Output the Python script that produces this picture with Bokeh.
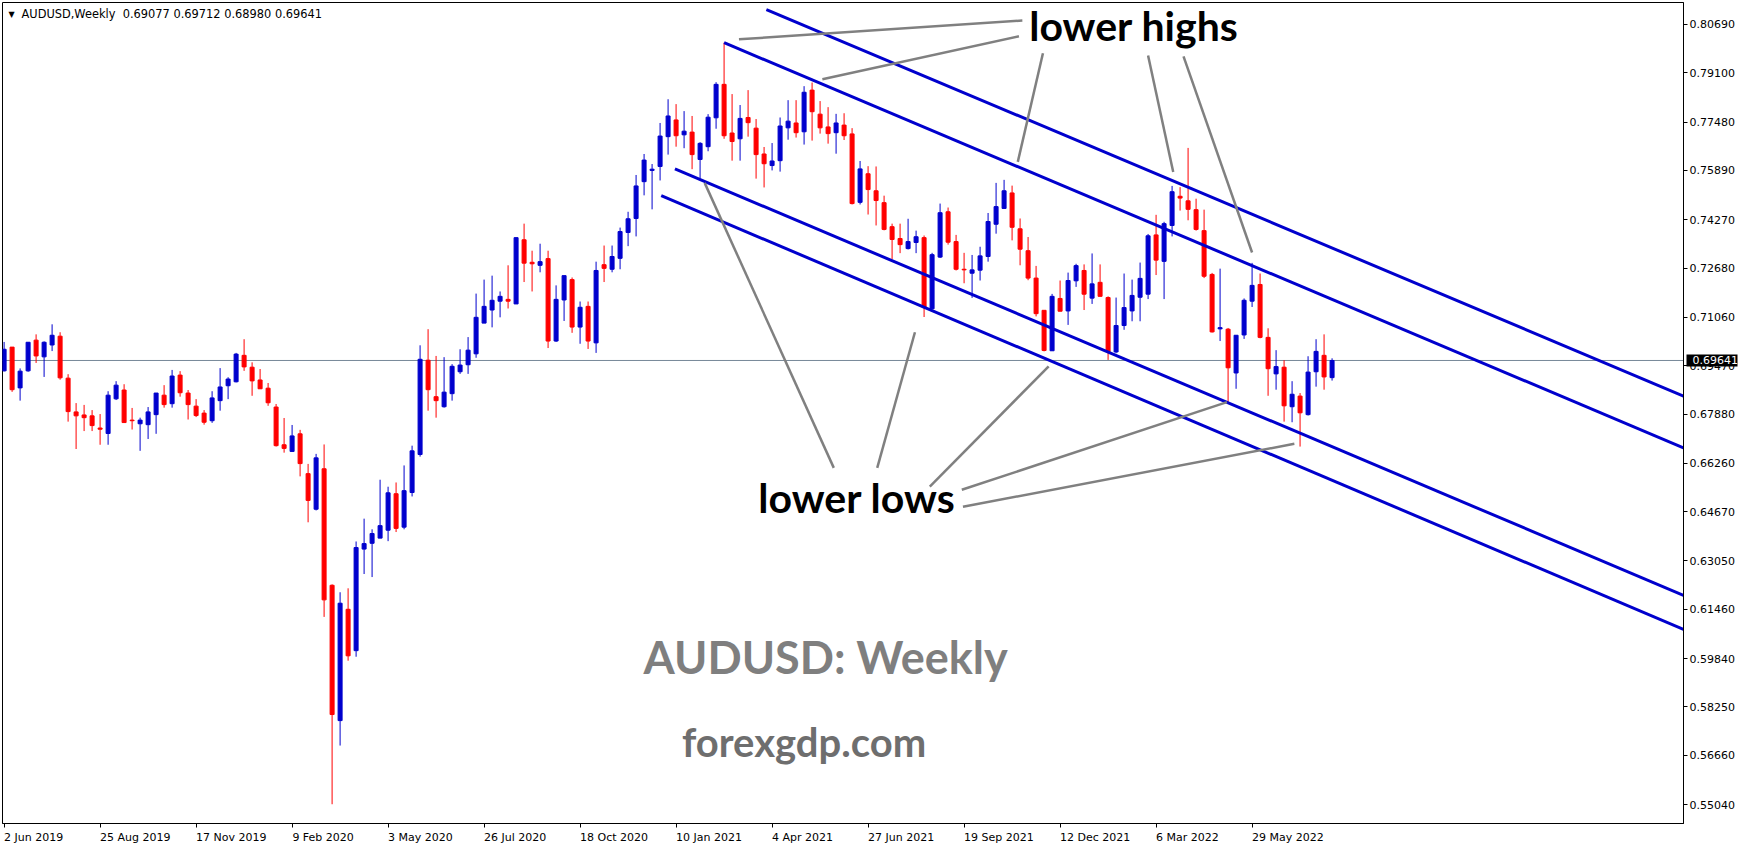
import pandas as pd

from bokeh.plotting import figure
from bokeh.models import (ColumnDataSource, FixedTicker, PrintfTickFormatter, Range1d, Span,
                          Label, LinearAxis)
from bokeh.core.properties import value
from bokeh.embed import file_html
from bokeh.resources import INLINE

symbol = "AUDUSD"
timeframe = "Weekly"
first_week = "2019-06-02"
view_end = "2023-06-10 12:00"

# weekly candles (one row = 10 weeks)
opens = [
    0.6930, 0.7008, 0.6874, 0.6930, 0.7031, 0.6976, 0.7015, 0.7044, 0.6906, 0.6795,
    0.6785, 0.6782, 0.6742, 0.6724, 0.6838, 0.6867, 0.6768, 0.6756, 0.6753, 0.6786,
    0.6850, 0.6822, 0.6916, 0.6857, 0.6814, 0.6791, 0.6766, 0.6832, 0.6881, 0.6894,
    0.6981, 0.6942, 0.6900, 0.6873, 0.6811, 0.6687, 0.6665, 0.6723, 0.6592, 0.6475,
    0.6608, 0.6225, 0.5780, 0.6146, 0.6010, 0.6344, 0.6363, 0.6380, 0.6406, 0.6526,
    0.6416, 0.6530, 0.6655, 0.6965, 0.6845, 0.6812, 0.6855, 0.6927, 0.6950, 0.6986,
    0.7087, 0.7130, 0.7159, 0.7165, 0.7150, 0.7361, 0.7287, 0.7277, 0.7299, 0.7028,
    0.7163, 0.7230, 0.7074, 0.7142, 0.7022, 0.7279, 0.7264, 0.7300, 0.7385, 0.7431,
    0.7552, 0.7589, 0.7602, 0.7700, 0.7755, 0.7706, 0.7715, 0.7625, 0.7667, 0.7762,
    0.7872, 0.7712, 0.7693, 0.7763, 0.7728, 0.7643, 0.7605, 0.7621, 0.7729, 0.7745,
    0.7716, 0.7853, 0.7774, 0.7732, 0.7713, 0.7738, 0.7709, 0.7484, 0.7578, 0.7522,
    0.7483, 0.7404, 0.7365, 0.7332, 0.7352, 0.7368, 0.7134, 0.7304, 0.7453, 0.7355,
    0.7264, 0.7251, 0.7261, 0.7306, 0.7412, 0.7464, 0.7515, 0.7397, 0.7325, 0.7235,
    0.7129, 0.6996, 0.7168, 0.7127, 0.7226, 0.7260, 0.7169, 0.7221, 0.7171, 0.6992,
    0.7079, 0.7127, 0.7172, 0.7182, 0.7377, 0.7290, 0.7408, 0.7504, 0.7489, 0.7460,
    0.7391, 0.7247, 0.7068, 0.7067, 0.6923, 0.7048, 0.7159, 0.7214, 0.7040, 0.6920,
    0.6942, 0.6812, 0.6847, 0.6786, 0.6927, 0.6981, 0.69077,
]
highs = [
    0.7025, 0.7008, 0.6938, 0.7024, 0.7050, 0.7027, 0.7083, 0.7057, 0.6919, 0.6824,
    0.6818, 0.6801, 0.6788, 0.6863, 0.6896, 0.6886, 0.6808, 0.6776, 0.6811, 0.6857,
    0.6883, 0.6933, 0.6929, 0.6867, 0.6837, 0.6801, 0.6863, 0.6939, 0.6909, 0.6989,
    0.7034, 0.6958, 0.6936, 0.6890, 0.6821, 0.6775, 0.6752, 0.6736, 0.6624, 0.6657,
    0.6688, 0.6228, 0.6202, 0.6215, 0.6369, 0.6444, 0.6409, 0.6572, 0.6549, 0.6563,
    0.6619, 0.6684, 0.7014, 0.7067, 0.6979, 0.6975, 0.6952, 0.7001, 0.7041, 0.7184,
    0.7230, 0.7243, 0.7191, 0.7277, 0.7368, 0.7414, 0.7325, 0.7348, 0.7325, 0.7211,
    0.7243, 0.7237, 0.7158, 0.7158, 0.7289, 0.7342, 0.7342, 0.7401, 0.7453, 0.7574,
    0.7643, 0.7610, 0.7745, 0.7823, 0.7807, 0.7784, 0.7768, 0.7682, 0.7774, 0.7879,
    0.8009, 0.7840, 0.7804, 0.7853, 0.7758, 0.7666, 0.7679, 0.7763, 0.7820, 0.7820,
    0.7866, 0.7878, 0.7817, 0.7797, 0.7775, 0.7777, 0.7728, 0.7620, 0.7603, 0.7602,
    0.7506, 0.7414, 0.7414, 0.7430, 0.7391, 0.7375, 0.7318, 0.7480, 0.7467, 0.7377,
    0.7318, 0.7311, 0.7338, 0.7449, 0.7548, 0.7558, 0.7539, 0.7431, 0.7370, 0.7275,
    0.7129, 0.7183, 0.7227, 0.7253, 0.7282, 0.7280, 0.7316, 0.7280, 0.7175, 0.7171,
    0.7250, 0.7230, 0.7286, 0.7380, 0.7443, 0.7420, 0.7538, 0.7534, 0.7663, 0.7496,
    0.7460, 0.7252, 0.7266, 0.7071, 0.7047, 0.7168, 0.7285, 0.7250, 0.7070, 0.6998,
    0.6965, 0.6896, 0.6857, 0.6978, 0.7034, 0.7050, 0.69712,
]
lows = [
    0.6928, 0.6861, 0.6832, 0.6927, 0.6956, 0.6910, 0.6995, 0.6901, 0.6763, 0.6673,
    0.6732, 0.6732, 0.6687, 0.6687, 0.6834, 0.6760, 0.6737, 0.6667, 0.6706, 0.6723,
    0.6809, 0.6809, 0.6845, 0.6770, 0.6778, 0.6753, 0.6759, 0.6799, 0.6837, 0.6892,
    0.6930, 0.6848, 0.6871, 0.6815, 0.6681, 0.6661, 0.6665, 0.6583, 0.6432, 0.6471,
    0.6121, 0.5505, 0.5698, 0.5977, 0.5990, 0.6262, 0.6252, 0.6380, 0.6370, 0.6400,
    0.6409, 0.6517, 0.6648, 0.6799, 0.6776, 0.6809, 0.6832, 0.6920, 0.6920, 0.6973,
    0.7087, 0.7073, 0.7106, 0.7135, 0.7150, 0.7222, 0.7191, 0.7254, 0.7005, 0.7025,
    0.7094, 0.7055, 0.7019, 0.7002, 0.6989, 0.7222, 0.7254, 0.7264, 0.7340, 0.7372,
    0.7507, 0.7461, 0.7556, 0.7641, 0.7667, 0.7662, 0.7593, 0.7563, 0.7652, 0.7726,
    0.7693, 0.7621, 0.7621, 0.7700, 0.7562, 0.7533, 0.7589, 0.7585, 0.7690, 0.7697,
    0.7674, 0.7687, 0.7710, 0.7677, 0.7644, 0.7689, 0.7477, 0.7477, 0.7444, 0.7408,
    0.7392, 0.7297, 0.7317, 0.7329, 0.7317, 0.7107, 0.7132, 0.7301, 0.7345, 0.7260,
    0.7218, 0.7170, 0.7227, 0.7289, 0.7381, 0.7464, 0.7359, 0.7277, 0.7228, 0.7109,
    0.6994, 0.6996, 0.7126, 0.7081, 0.7206, 0.7130, 0.7150, 0.7175, 0.6966, 0.6988,
    0.7065, 0.7093, 0.7093, 0.7166, 0.7245, 0.7166, 0.7372, 0.7457, 0.7425, 0.7391,
    0.7235, 0.7056, 0.7028, 0.6824, 0.6871, 0.7035, 0.7140, 0.7037, 0.6848, 0.6868,
    0.6763, 0.6761, 0.6681, 0.6783, 0.6878, 0.6868, 0.68980,
]
closes = [
    0.7001, 0.6868, 0.6929, 0.7024, 0.6979, 0.7024, 0.7047, 0.6907, 0.6796, 0.6782,
    0.6776, 0.6750, 0.6738, 0.6850, 0.6883, 0.6760, 0.6766, 0.6768, 0.6795, 0.6857,
    0.6819, 0.6913, 0.6858, 0.6819, 0.6783, 0.6761, 0.6841, 0.6877, 0.6903, 0.6985,
    0.6943, 0.6897, 0.6871, 0.6825, 0.6684, 0.6675, 0.6716, 0.6625, 0.6504, 0.6644,
    0.6177, 0.5800, 0.6166, 0.5993, 0.6349, 0.6362, 0.6395, 0.6421, 0.6529, 0.6412,
    0.6536, 0.6667, 0.6968, 0.6868, 0.6832, 0.6860, 0.6945, 0.6949, 0.6998, 0.7106,
    0.7142, 0.7162, 0.7175, 0.7159, 0.7368, 0.7284, 0.7282, 0.7289, 0.7028, 0.7165,
    0.7243, 0.7074, 0.7139, 0.7028, 0.7260, 0.7267, 0.7306, 0.7388, 0.7430, 0.7538,
    0.7623, 0.7593, 0.7702, 0.7768, 0.7703, 0.7718, 0.7641, 0.7678, 0.7764, 0.7872,
    0.7703, 0.7684, 0.7760, 0.7746, 0.7641, 0.7611, 0.7620, 0.7735, 0.7751, 0.7713,
    0.7846, 0.7782, 0.7729, 0.7710, 0.7745, 0.7703, 0.7480, 0.7594, 0.7526, 0.7490,
    0.7395, 0.7362, 0.7345, 0.7355, 0.7371, 0.7138, 0.7312, 0.7450, 0.7353, 0.7264,
    0.7262, 0.7262, 0.7308, 0.7421, 0.7470, 0.7522, 0.7402, 0.7330, 0.7235, 0.7118,
    0.6997, 0.7175, 0.7126, 0.7227, 0.7276, 0.7182, 0.7216, 0.7175, 0.6993, 0.7079,
    0.7138, 0.7178, 0.7234, 0.7374, 0.7294, 0.7414, 0.7519, 0.7498, 0.7461, 0.7395,
    0.7241, 0.7058, 0.7072, 0.6940, 0.7047, 0.7162, 0.7211, 0.7040, 0.6937, 0.6944,
    0.6815, 0.6853, 0.6792, 0.6926, 0.6994, 0.6910, 0.69641,
]

x_tick_dates = ["2019-06-02", "2019-08-25", "2019-11-17", "2020-02-09", "2020-05-03",
                "2020-07-26", "2020-10-18", "2021-01-10", "2021-04-04", "2021-06-27",
                "2021-09-19", "2021-12-12", "2022-03-06", "2022-05-29"]
y_ticks = [0.80690, 0.79100, 0.77480, 0.75890, 0.74270, 0.72680, 0.71060, 0.69470,
           0.67880, 0.66260, 0.64670, 0.63050, 0.61460, 0.59840, 0.58250, 0.56660, 0.55040]
price_low, price_high = 0.54417, 0.81411

# descending channel, drawn to the right edge
channel_start_dates = ["2021-03-30", "2021-02-21", "2021-01-09", "2020-12-28"]
channel_start_prices = [0.8118, 0.8009, 0.7594, 0.7506]
channel_end_prices = [0.6847, 0.6677, 0.6192, 0.6080]

# pointer lines: from the caption to the swing
highs_text_dates = ["2021-11-09", "2021-11-06", "2021-11-27", "2022-02-27", "2022-03-30"]
highs_text_prices = [0.8082, 0.8030, 0.7974, 0.7967, 0.7964]
highs_tip_dates = ["2021-03-06", "2021-05-18", "2021-11-05", "2022-03-21", "2022-05-29"]
highs_tip_prices = [0.8020, 0.7889, 0.7617, 0.7584, 0.7319]

lows_text_dates = ["2021-05-28", "2021-07-05", "2021-08-20", "2021-09-17", "2021-09-18"]
lows_text_prices = [0.6611, 0.6611, 0.6549, 0.6539, 0.6483]
lows_tip_dates = ["2021-02-04", "2021-08-07", "2021-12-02", "2022-05-07", "2022-07-05"]
lows_tip_prices = [0.7548, 0.7057, 0.6945, 0.6827, 0.6690]

captions = ["lower highs", "lower lows"]
caption_dates = ["2021-11-15", "2021-03-23"]
caption_prices = [0.8066, 0.6513]

watermark = ["AUDUSD: Weekly", "forexgdp.com"]
watermark_dates = ["2021-05-21", "2021-05-02"]
watermark_prices = [0.5990, 0.5710]

BLUE = "#0000cd"
RED = "#ff0000"
DAY = 86400000.0
W, H = 1740, 846
BORDER_L, BORDER_R, BORDER_T, BORDER_B = 2, 57, 2, 20
AXIS_FONT = "DejaVu Sans"
AXIS_PX = 11

# DejaVu Sans advance widths (em) for the date labels
DEJAVU_EM = {" ": 0.318, "A": 0.684, "D": 0.770, "F": 0.575, "J": 0.295, "M": 0.863,
             "N": 0.748, "O": 0.787, "S": 0.635, "a": 0.613, "b": 0.635, "c": 0.550,
             "e": 0.615, "g": 0.635, "l": 0.278, "n": 0.634, "o": 0.612, "p": 0.635,
             "r": 0.411, "t": 0.392, "u": 0.634, "v": 0.592, "y": 0.592}


def ms(d):
    return pd.Timestamp(d).value / 1e6


def text_px(s):
    return sum(0.636 if ch.isdigit() else DEJAVU_EM.get(ch, 0.6) for ch in s) * AXIS_PX


n = len(opens)
assert len(highs) == n and len(lows) == n and len(closes) == n
weeks = pd.date_range(first_week, periods=n, freq="7D")

src = ColumnDataSource(dict(
    x=[ms(d) for d in weeks],
    high=highs, low=lows,
    top=[max(o, c) for o, c in zip(opens, closes)],
    bottom=[min(o, c) for o, c in zip(opens, closes)],
    color=[BLUE if c >= o else RED for o, c in zip(opens, closes)],
))

x_start = ms(first_week) - 1.4 * DAY
x_end = ms(view_end)

p = figure(width=W, height=H, x_axis_type="datetime", y_axis_location="right",
           x_range=Range1d(x_start, x_end), y_range=Range1d(price_low, price_high),
           toolbar_location=None, output_backend="svg",
           min_border_left=BORDER_L, min_border_right=BORDER_R,
           min_border_top=BORDER_T, min_border_bottom=BORDER_B)
p.background_fill_color = "white"
p.border_fill_color = "white"
p.outline_line_color = "black"
p.grid.visible = False

# terminal-style dates start at their tick: put the label centre half a label to the right
ms_per_px = (x_end - x_start) / (W - BORDER_L - BORDER_R)
tick_ms = [ms(d) for d in x_tick_dates]
tick_text = [f"{pd.Timestamp(d).day} {pd.Timestamp(d):%b %Y}" for d in x_tick_dates]
label_centres = [int(round(t + text_px(s) / 2 * ms_per_px)) for t, s in zip(tick_ms, tick_text)]

xaxis = p.xaxis[0]
xaxis.ticker = FixedTicker(ticks=label_centres, minor_ticks=tick_ms)
xaxis.major_label_overrides = dict(zip(label_centres, tick_text))
xaxis.major_tick_in = 0
xaxis.major_tick_out = 0
xaxis.minor_tick_in = 0
xaxis.minor_tick_out = 4
xaxis.minor_tick_line_color = "black"
xaxis.major_label_standoff = 3
xaxis.major_label_text_font = AXIS_FONT
xaxis.major_label_text_font_size = f"{AXIS_PX}px"
xaxis.major_label_text_color = "black"
xaxis.axis_line_color = "black"

yaxis = p.yaxis[0]
yaxis.ticker = FixedTicker(ticks=y_ticks)
yaxis.formatter = PrintfTickFormatter(format="%.5f")
yaxis.major_tick_in = 0
yaxis.major_tick_out = 4
yaxis.minor_tick_in = 0
yaxis.minor_tick_out = 0
yaxis.major_label_standoff = 2
yaxis.major_label_text_font = AXIS_FONT
yaxis.major_label_text_font_size = f"{AXIS_PX}px"
yaxis.major_label_text_color = "black"
yaxis.axis_line_color = "black"

# last price marker: a second scale just outside the first, whose single tick points back
# inwards as a thick black bar, with its white label written on top of it
price_axis = LinearAxis(ticker=FixedTicker(ticks=[closes[-1]]),
                        formatter=PrintfTickFormatter(format="%.5f"),
                        axis_line_color=None, major_tick_in=51, major_tick_out=0,
                        major_tick_line_width=12, major_tick_line_color="black",
                        minor_tick_in=0, minor_tick_out=0, major_label_standoff=-45,
                        major_label_text_color="white", major_label_text_font=AXIS_FONT,
                        major_label_text_font_size=f"{AXIS_PX}px")
p.add_layout(price_axis, "right")

p.add_layout(Span(location=closes[-1], dimension="width", line_color="#778899",
                  line_width=1, level="underlay"))

p.segment(x0="x", y0="low", x1="x", y1="high", line_color="color", line_width=1, source=src)
p.vbar(x="x", width=3.5 * DAY, top="top", bottom="bottom", fill_color="color",
       line_color="color", line_width=1, source=src)

p.segment(x0=[ms(d) for d in channel_start_dates], y0=channel_start_prices,
          x1=[x_end] * len(channel_start_dates), y1=channel_end_prices,
          line_color=BLUE, line_width=3)

p.segment(x0=[ms(d) for d in highs_text_dates], y0=highs_text_prices,
          x1=[ms(d) for d in highs_tip_dates], y1=highs_tip_prices,
          line_color="#808080", line_width=2.5)
p.segment(x0=[ms(d) for d in lows_text_dates], y0=lows_text_prices,
          x1=[ms(d) for d in lows_tip_dates], y1=lows_tip_prices,
          line_color="#808080", line_width=2.5)

p.text(x=[ms(d) for d in caption_dates], y=caption_prices, text=captions,
       text_font=value("Lato"), text_font_style="bold", text_font_size="41px",
       text_color="black", text_align="left", text_baseline="alphabetic")

p.text(x=[ms(watermark_dates[0])], y=[watermark_prices[0]], text=[watermark[0]],
       text_font=value("Lato"), text_font_style="bold", text_font_size="45px",
       text_color="#7f7f7f", text_align="center", text_baseline="alphabetic")
p.text(x=[ms(watermark_dates[1])], y=[watermark_prices[1]], text=[watermark[1]],
       text_font=value("Lato"), text_font_style="bold", text_font_size="40px",
       text_color="#6e6e6e", text_align="center", text_baseline="alphabetic")

# header line
header = f"{symbol},{timeframe}\u00a0 " + " ".join(
    f"{v:.5f}" for v in (opens[-1], highs[-1], lows[-1], closes[-1]))
p.add_layout(Label(x=x_start, y=price_high, x_offset=6, y_offset=-7, text="\u25bc",
                   text_baseline="top", text_font=AXIS_FONT, text_font_size="8px",
                   text_color="black"))
p.add_layout(Label(x=x_start, y=price_high, x_offset=19, y_offset=-4, text=header,
                   text_baseline="top", text_font=AXIS_FONT, text_font_size="11.4px",
                   text_color="black"))

open("out.html", "w").write(file_html(p, INLINE))
